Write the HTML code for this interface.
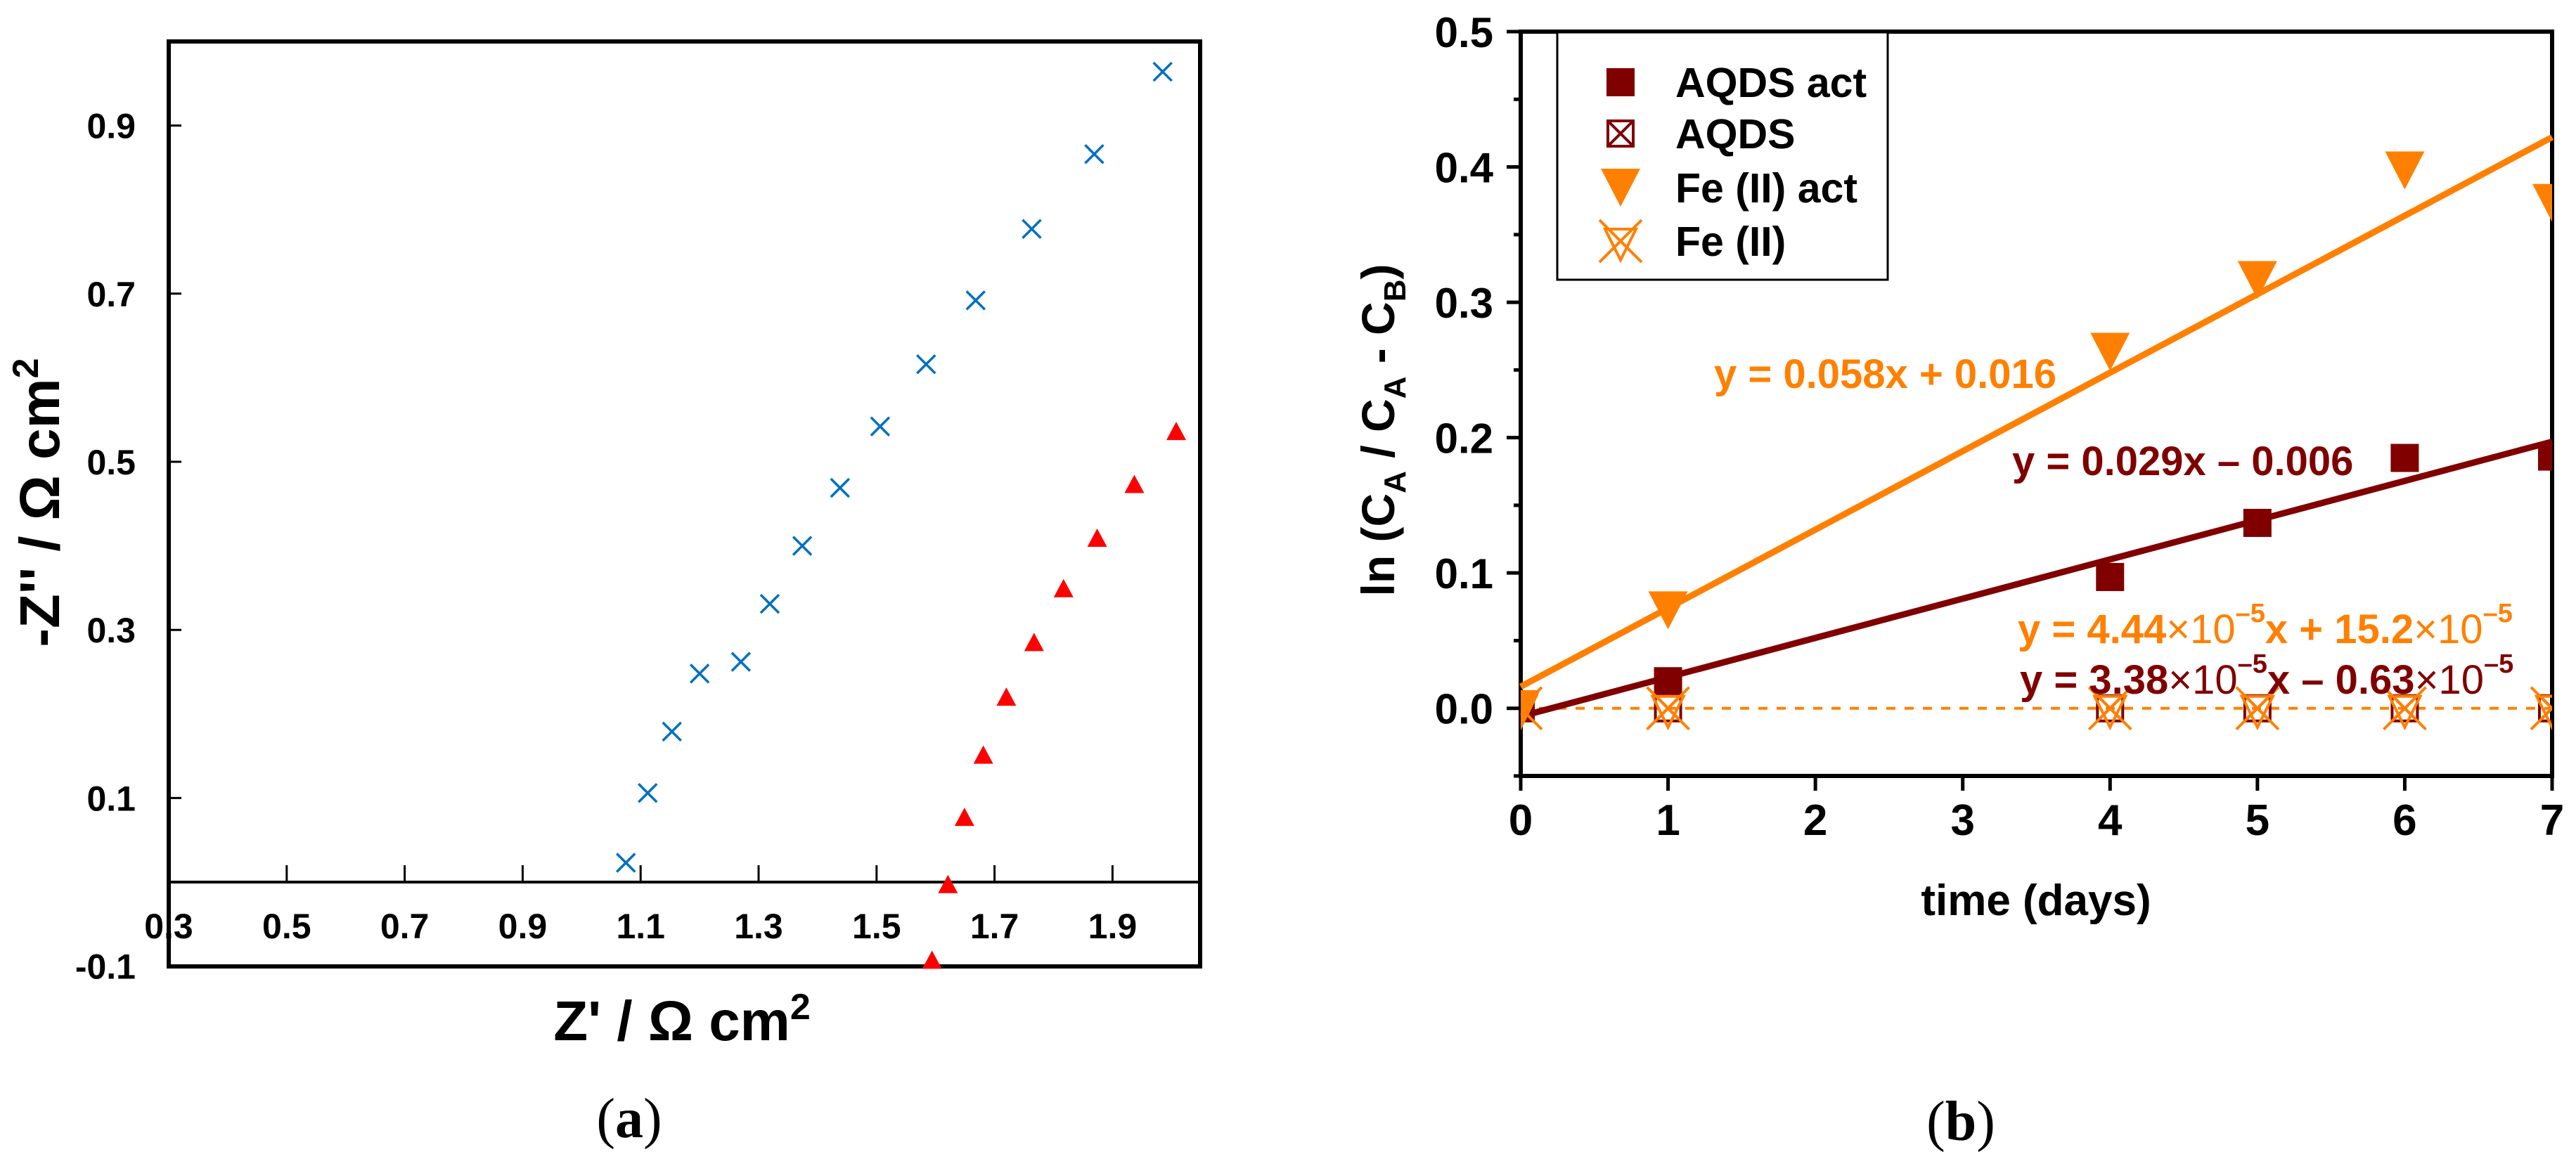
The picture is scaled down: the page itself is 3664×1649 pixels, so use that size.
<!DOCTYPE html>
<html><head><meta charset="utf-8"><style>
html,body{margin:0;padding:0;background:#fff;}
svg{display:block;font-family:"Liberation Sans",Arial,sans-serif;}
</style></head><body>
<svg id="fig" width="3664" height="1649" viewBox="0 0 3664 1649" xmlns="http://www.w3.org/2000/svg">
<g id="pa"></g>
<g id="pb"></g>
<text x="895" y="1618" font-family="Liberation Serif,serif" font-size="80" text-anchor="middle">(<tspan font-weight="bold">a</tspan>)</text>
<text x="2789" y="1622" font-family="Liberation Serif,serif" font-size="80" text-anchor="middle">(<tspan font-weight="bold">b</tspan>)</text>
</svg>
<script>
// ---------- Panel A data ----------
const aXTicks = [0.3,0.5,0.7,0.9,1.1,1.3,1.5,1.7,1.9];
const aYTicks = [0.9,0.7,0.5,0.3,0.1];
const blueX = [1.075,1.112,1.153,1.200,1.270,1.319,1.374,1.438,1.506,1.584,1.668,1.763,1.869,1.985];
const blueY = [0.023,0.106,0.179,0.248,0.262,0.331,0.400,0.469,0.542,0.616,0.692,0.777,0.866,0.964];
const redX = [1.594,1.621,1.649,1.681,1.720,1.767,1.817,1.874,1.937,2.008];
const redY = [-0.094,-0.004,0.076,0.150,0.219,0.284,0.348,0.408,0.472,0.535];
// ---------- Panel B data ----------
const bXTicks = [0,1,2,3,4,5,6,7];
const bYTicks = [0.0,0.1,0.2,0.3,0.4,0.5];
const bDays = [0,1,4,5,6,7];
const aqdsAct = [0.002,0.020,0.097,0.137,0.185,0.186];
const aqdsCtl = [0,0,0,0,0,0];
const feAct = [0.002,0.075,0.266,0.319,0.400,0.376];
const feCtl = [0,0,0,0,0,0];
const fitFeAct = [0.058,0.016];
const fitAqdsAct = [0.029,-0.006];
const fitCtl = [0,0];

const NS="http://www.w3.org/2000/svg";
function mk(parent,tag,attrs){const e=document.createElementNS(NS,tag);for(const k in attrs)e.setAttribute(k,attrs[k]);parent.appendChild(e);return e;}

// ===== Panel A =====
const pa=document.getElementById('pa');
const axL=240,axR=1707,axT=59,axB=1375;
const ax=v=>240+(v-0.3)*839;
const ay=v=>1255-v*1196;
let e=mk(pa,'rect',{x:axL,y:axT,width:axR-axL,height:axB-axT,fill:'none',stroke:'#000','stroke-width':6});


e=mk(pa,'line',{x1:axL,x2:axR,y1:ay(0),y2:ay(0),stroke:'#000','stroke-width':4});


aXTicks.forEach(v=>{
  if(v>0.35){const t=mk(pa,'line',{x1:ax(v),x2:ax(v),y1:ay(0),y2:ay(0)-24,stroke:'#000','stroke-width':3});
  
  }
  const l=mk(pa,'text',{x:ax(v),y:ay(0)+80,'font-size':50,'font-weight':'bold','text-anchor':'middle'});
  l.textContent=v.toFixed(1);
  
  
});
aYTicks.forEach(v=>{
  const t=mk(pa,'line',{x1:axL,x2:axL+18,y1:ay(v),y2:ay(v),stroke:'#000','stroke-width':3});
  
  
  const l=mk(pa,'text',{x:193,y:ay(v)+18,'font-size':50,'font-weight':'bold','text-anchor':'end'});
  l.textContent=v.toFixed(1);
  
  
});
e=mk(pa,'text',{x:193,y:ay(-0.1)+18,'font-size':50,'font-weight':'bold','text-anchor':'end'});
e.textContent='-0.1';


blueX.forEach((x,i)=>{
  const cx=ax(x),cy=ay(blueY[i]),s=13;
  const p=mk(pa,'path',{d:`M${cx-s} ${cy-s}L${cx+s} ${cy+s}M${cx-s} ${cy+s}L${cx+s} ${cy-s}`,stroke:'#0070C0','stroke-width':3.5,fill:'none'});
  
  
});
redX.forEach((x,i)=>{
  const cx=ax(x),cy=ay(redY[i]);
  const p=mk(pa,'path',{d:`M${cx} ${cy-15}L${cx+14} ${cy+11}L${cx-14} ${cy+11}Z`,fill:'#FF0000'});
  
  
});
e=mk(pa,'text',{x:970,y:1480,'font-size':80,'font-weight':'bold','text-anchor':'middle'});
e.innerHTML=`Z' / Ω cm<tspan font-size="52" dy="-30">2</tspan>`;


e=mk(pa,'text',{x:0,y:0,'font-size':80,'font-weight':'bold','text-anchor':'middle',transform:'translate(84,715) rotate(-90)'});
e.innerHTML=`-Z'' / Ω cm<tspan font-size="52" dy="-30">2</tspan>`;



// ===== Panel B =====
const pb=document.getElementById('pb');
const bL=2163,bR=3630,bT=45,bB=1104;
const bx=d=>bL+d*(bR-bL)/7;
const by=v=>bB-(v+0.05)*(bB-bT)/0.55;
e=mk(pb,'rect',{x:bL,y:bT,width:bR-bL,height:bB-bT,fill:'none',stroke:'#000','stroke-width':6});


bXTicks.forEach(d=>{
  const t=mk(pb,'line',{x1:bx(d),x2:bx(d),y1:bB,y2:bB+21,stroke:'#000','stroke-width':5});
  
  
  const l=mk(pb,'text',{x:bx(d),y:1188,'font-size':62,'font-weight':'bold','text-anchor':'middle'});
  l.textContent=String(d);
  
  
});
for(let k=-1;k<=10;k++){
  const v=k*0.05; const major=(k%2===0);
  const t=mk(pb,'line',{x1:bL-(major?20:10),x2:bL,y1:by(v),y2:by(v),stroke:'#000','stroke-width':5});
  
  
}
bYTicks.forEach(v=>{
  const l=mk(pb,'text',{x:2124,y:by(v)+22,'font-size':60,'font-weight':'bold','text-anchor':'end'});
  l.textContent=v.toFixed(1);
  
  
});
// fits
e=mk(pb,'line',{x1:bx(0),x2:bx(7),y1:by(fitCtl[1]),y2:by(fitCtl[0]*7+fitCtl[1]),stroke:'#FF8000','stroke-width':4,'stroke-dasharray':'13 13'});


e=mk(pb,'line',{x1:bx(0),x2:bx(7),y1:by(fitAqdsAct[1]),y2:by(fitAqdsAct[0]*7+fitAqdsAct[1]),stroke:'#800000','stroke-width':9});


e=mk(pb,'line',{x1:bx(0),x2:bx(7),y1:by(fitFeAct[1]),y2:by(fitFeAct[0]*7+fitFeAct[1]),stroke:'#FF8000','stroke-width':9});



function sqFilled(g,cx,cy){return mk(g,'rect',{x:cx-20,y:cy-20,width:40,height:40,fill:'#800000'});}
function sqX(g,cx,cy){return mk(g,'path',{d:`M${cx-18} ${cy-18}h36v36h-36Z M${cx-18} ${cy-18}L${cx+18} ${cy+18}M${cx+18} ${cy-18}L${cx-18} ${cy+18}`,fill:'none',stroke:'#800000','stroke-width':4});}
function triDown(g,cx,cy){return mk(g,'path',{d:`M${cx-28} ${cy-22}L${cx+28} ${cy-22}L${cx} ${cy+32}Z`,fill:'#FF8000'});}
function triX(g,cx,cy){return mk(g,'path',{d:`M${cx-22} ${cy-17}L${cx+22} ${cy-17}L${cx} ${cy+27}Z M${cx-30} ${cy-30}L${cx+30} ${cy+30}M${cx+30} ${cy-30}L${cx-30} ${cy+30}`,fill:'none',stroke:'#FF8000','stroke-width':4});}

const clip=mk(pb,'clipPath',{id:'bclip'});
mk(clip,'rect',{x:bL,y:bT-40,width:bR-bL,height:bB-bT+40});
const marks=mk(pb,'g',{'clip-path':'url(#bclip)'});
bDays.forEach((d,i)=>{
  let m=sqFilled(marks,bx(d),by(aqdsAct[i]));
  
  
  m=sqX(marks,bx(d),by(aqdsCtl[i]));
  
  
  m=triDown(marks,bx(d),by(feAct[i]));
  
  
  m=triX(marks,bx(d),by(feCtl[i]));
  
  
});

// legend
const lg=mk(pb,'g',{});


mk(lg,'rect',{x:2215,y:46,width:470,height:352,fill:'#fff',stroke:'#000','stroke-width':3});
const legLabels=['AQDS act','AQDS','Fe (II) act','Fe (II)'];
const legFns=[sqFilled,sqX,triDown,triX];
const legY=[117,190,267,343];
legLabels.forEach((s,i)=>{
  const m=legFns[i](lg,2305,legY[i]-(i===2?5:0));
  
  
  const t=mk(lg,'text',{x:2383,y:legY[i]+21,'font-size':59,'font-weight':'bold'});
  t.textContent=s;
  
  
});

// equations
function eq(x,y,color,html,name){const t=mk(pb,'text',{x:x,y:y,'font-size':58,'font-weight':'bold',fill:color});t.innerHTML=html;return t;}
eq(2438,552,'#FF8000','y = 0.058x + 0.016','fe-act-equation');
eq(2862,676,'#800000','y = 0.029x – 0.006','aqds-act-equation');
eq(2870,915,'#FF8000','y = 4.44<tspan font-weight="normal">×10</tspan><tspan font-size="38" dy="-30">–5</tspan><tspan dy="30">x + 15.2</tspan><tspan font-weight="normal">×10</tspan><tspan font-size="38" dy="-30">–5</tspan>','fe-equation');
eq(2873,987,'#800000','y = 3.38<tspan font-weight="normal">×10</tspan><tspan font-size="38" dy="-30">–5</tspan><tspan dy="30">x – 0.63</tspan><tspan font-weight="normal">×10</tspan><tspan font-size="38" dy="-30">–5</tspan>','aqds-equation');

e=mk(pb,'text',{x:2896,y:1302,'font-size':62,'font-weight':'bold','text-anchor':'middle'});
e.textContent='time (days)';


e=mk(pb,'text',{x:0,y:0,'font-size':66,'font-weight':'bold','text-anchor':'middle',transform:'translate(1983,612) rotate(-90)'});
e.innerHTML='ln (C<tspan font-size="44" dy="16">A</tspan><tspan dy="-16"> / C</tspan><tspan font-size="44" dy="16">A</tspan><tspan dy="-16"> - C</tspan><tspan font-size="44" dy="16">B</tspan><tspan dy="-16">)</tspan>';


</script>
</body></html>
